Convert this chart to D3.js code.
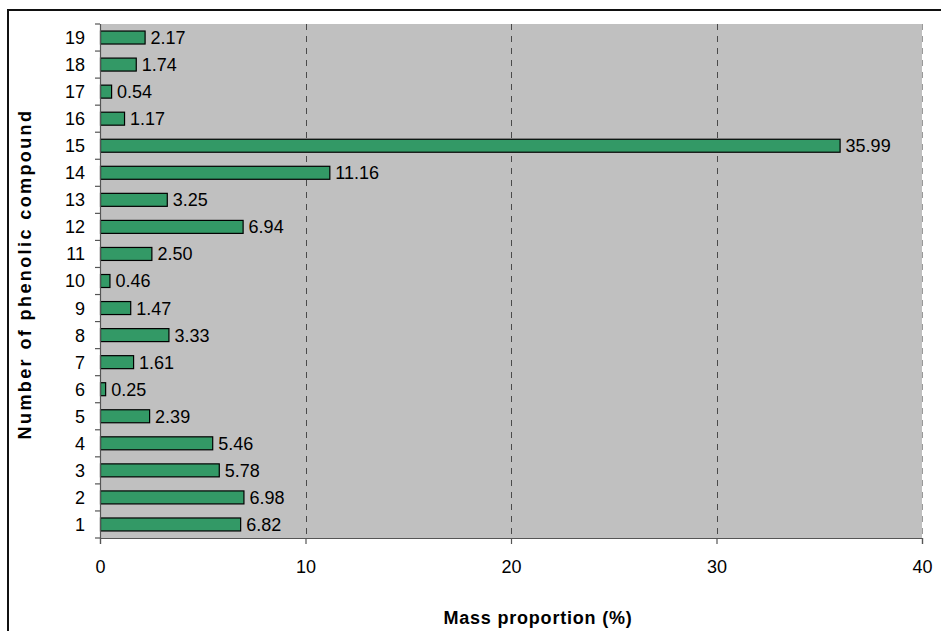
<!DOCTYPE html>
<html>
<head>
<meta charset="utf-8">
<script src="https://cdn.jsdelivr.net/npm/d3@7"></script>
<style>
  html, body { margin: 0; padding: 0; background: #fff; }
  svg { display: block; font-family: "Liberation Sans", Arial, sans-serif; }
</style>
</head>
<body>
<svg id="chart" width="941" height="631"></svg>
<script>
// Phenolic compounds (1..19) and their mass proportion in percent
const compounds = ["1","2","3","4","5","6","7","8","9","10","11","12","13","14","15","16","17","18","19"];
const massProportion = [6.82, 6.98, 5.78, 5.46, 2.39, 0.25, 1.61, 3.33, 1.47, 0.46, 2.50, 6.94, 3.25, 11.16, 35.99, 1.17, 0.54, 1.74, 2.17];
const xTicks = [0, 10, 20, 30, 40];

const data = compounds.map((c, i) => ({ c, v: massProportion[i] }));

const svg = d3.select("#chart");
const plot = { left: 100, right: 922, top: 24, bottom: 538 };
const fontSize = 18;

// Outer frame around the whole chart (top and left edges fall inside the view)
const frame = svg.append("g").attr("stroke", "#111").attr("stroke-width", 2);
frame.append("line").attr("x1", 7).attr("x2", 941).attr("y1", 10).attr("y2", 10);
frame.append("line").attr("x1", 8).attr("x2", 8).attr("y1", 9).attr("y2", 631);

const x = d3.scaleLinear().domain([0, 40]).range([plot.left, plot.right]);
const y = d3.scaleBand().domain(compounds).range([plot.bottom, plot.top]).paddingInner(0.52).paddingOuter(0.26);

// Plot background
svg.append("rect")
  .attr("x", plot.left).attr("y", plot.top)
  .attr("width", plot.right - plot.left).attr("height", plot.bottom - plot.top)
  .attr("fill", "#c0c0c0");

// Dashed vertical gridlines
svg.append("g").selectAll("line")
  .data(xTicks.filter(t => t > 0))
  .join("line")
  .attr("x1", d => Math.round(x(d)) + 0.5).attr("x2", d => Math.round(x(d)) + 0.5)
  .attr("y1", plot.top).attr("y2", plot.bottom)
  .attr("stroke", d => d === 40 ? "#9a9a9a" : "#4a4a4a")
  .attr("stroke-width", 1)
  .attr("stroke-dasharray", "6,6");

// Bars
svg.append("g").selectAll("rect")
  .data(data)
  .join("rect")
  .attr("x", x(0) + 0.5)
  .attr("y", d => y(d.c))
  .attr("width", d => x(d.v) - x(0))
  .attr("height", y.bandwidth())
  .attr("fill", "#339966")
  .attr("stroke", "#000")
  .attr("stroke-width", 1.2);

// Value labels
svg.append("g").selectAll("text")
  .data(data)
  .join("text")
  .attr("x", d => x(d.v) + 6)
  .attr("y", d => y(d.c) + y.bandwidth() / 2)
  .attr("dy", "0.36em")
  .attr("font-size", fontSize)
  .attr("fill", "#000")
  .text(d => d.v.toFixed(2));

// Y axis: ticks between categories
const yAxisG = svg.append("g");
yAxisG.append("line")
  .attr("x1", plot.left + 0.5).attr("x2", plot.left + 0.5)
  .attr("y1", plot.top).attr("y2", plot.bottom)
  .attr("stroke", "#555").attr("stroke-width", 1.2);
const bounds = d3.range(compounds.length + 1).map(i => plot.bottom - i * (plot.bottom - plot.top) / compounds.length);
yAxisG.selectAll("line.tick")
  .data(bounds)
  .join("line")
  .attr("class", "tick")
  .attr("x1", plot.left - 5).attr("x2", plot.left)
  .attr("y1", d => d).attr("y2", d => d)
  .attr("stroke", "#555").attr("stroke-width", 1.2);
yAxisG.selectAll("text")
  .data(compounds)
  .join("text")
  .attr("x", plot.left - 15)
  .attr("y", d => y(d) + y.bandwidth() / 2)
  .attr("dy", "0.36em")
  .attr("text-anchor", "end")
  .attr("font-size", fontSize)
  .text(d => d);

// X axis
const xAxis = d3.axisBottom(x).tickValues(xTicks).tickSize(6).tickPadding(16).tickFormat(d3.format("d"));
const xg = svg.append("g").attr("transform", `translate(0,${plot.bottom})`).call(xAxis);
xg.select(".domain").attr("stroke", "#555").attr("stroke-width", 1.2);
xg.selectAll(".tick line").attr("stroke", "#555").attr("stroke-width", 1.2);
xg.selectAll(".tick text").attr("font-size", fontSize).attr("font-family", "Liberation Sans, Arial, sans-serif").attr("fill", "#000");

// Axis titles
svg.append("text")
  .attr("x", 538)
  .attr("y", 624)
  .attr("text-anchor", "middle")
  .attr("font-size", 18)
  .attr("font-weight", "bold")
  .attr("letter-spacing", 0.8)
  .text("Mass proportion (%)");

svg.append("text")
  .attr("transform", `translate(31,274) rotate(-90)`)
  .attr("text-anchor", "middle")
  .attr("font-size", 18)
  .attr("font-weight", "bold")
  .attr("letter-spacing", 2.4)
  .text("Number of phenolic compound");
</script>
</body>
</html>
